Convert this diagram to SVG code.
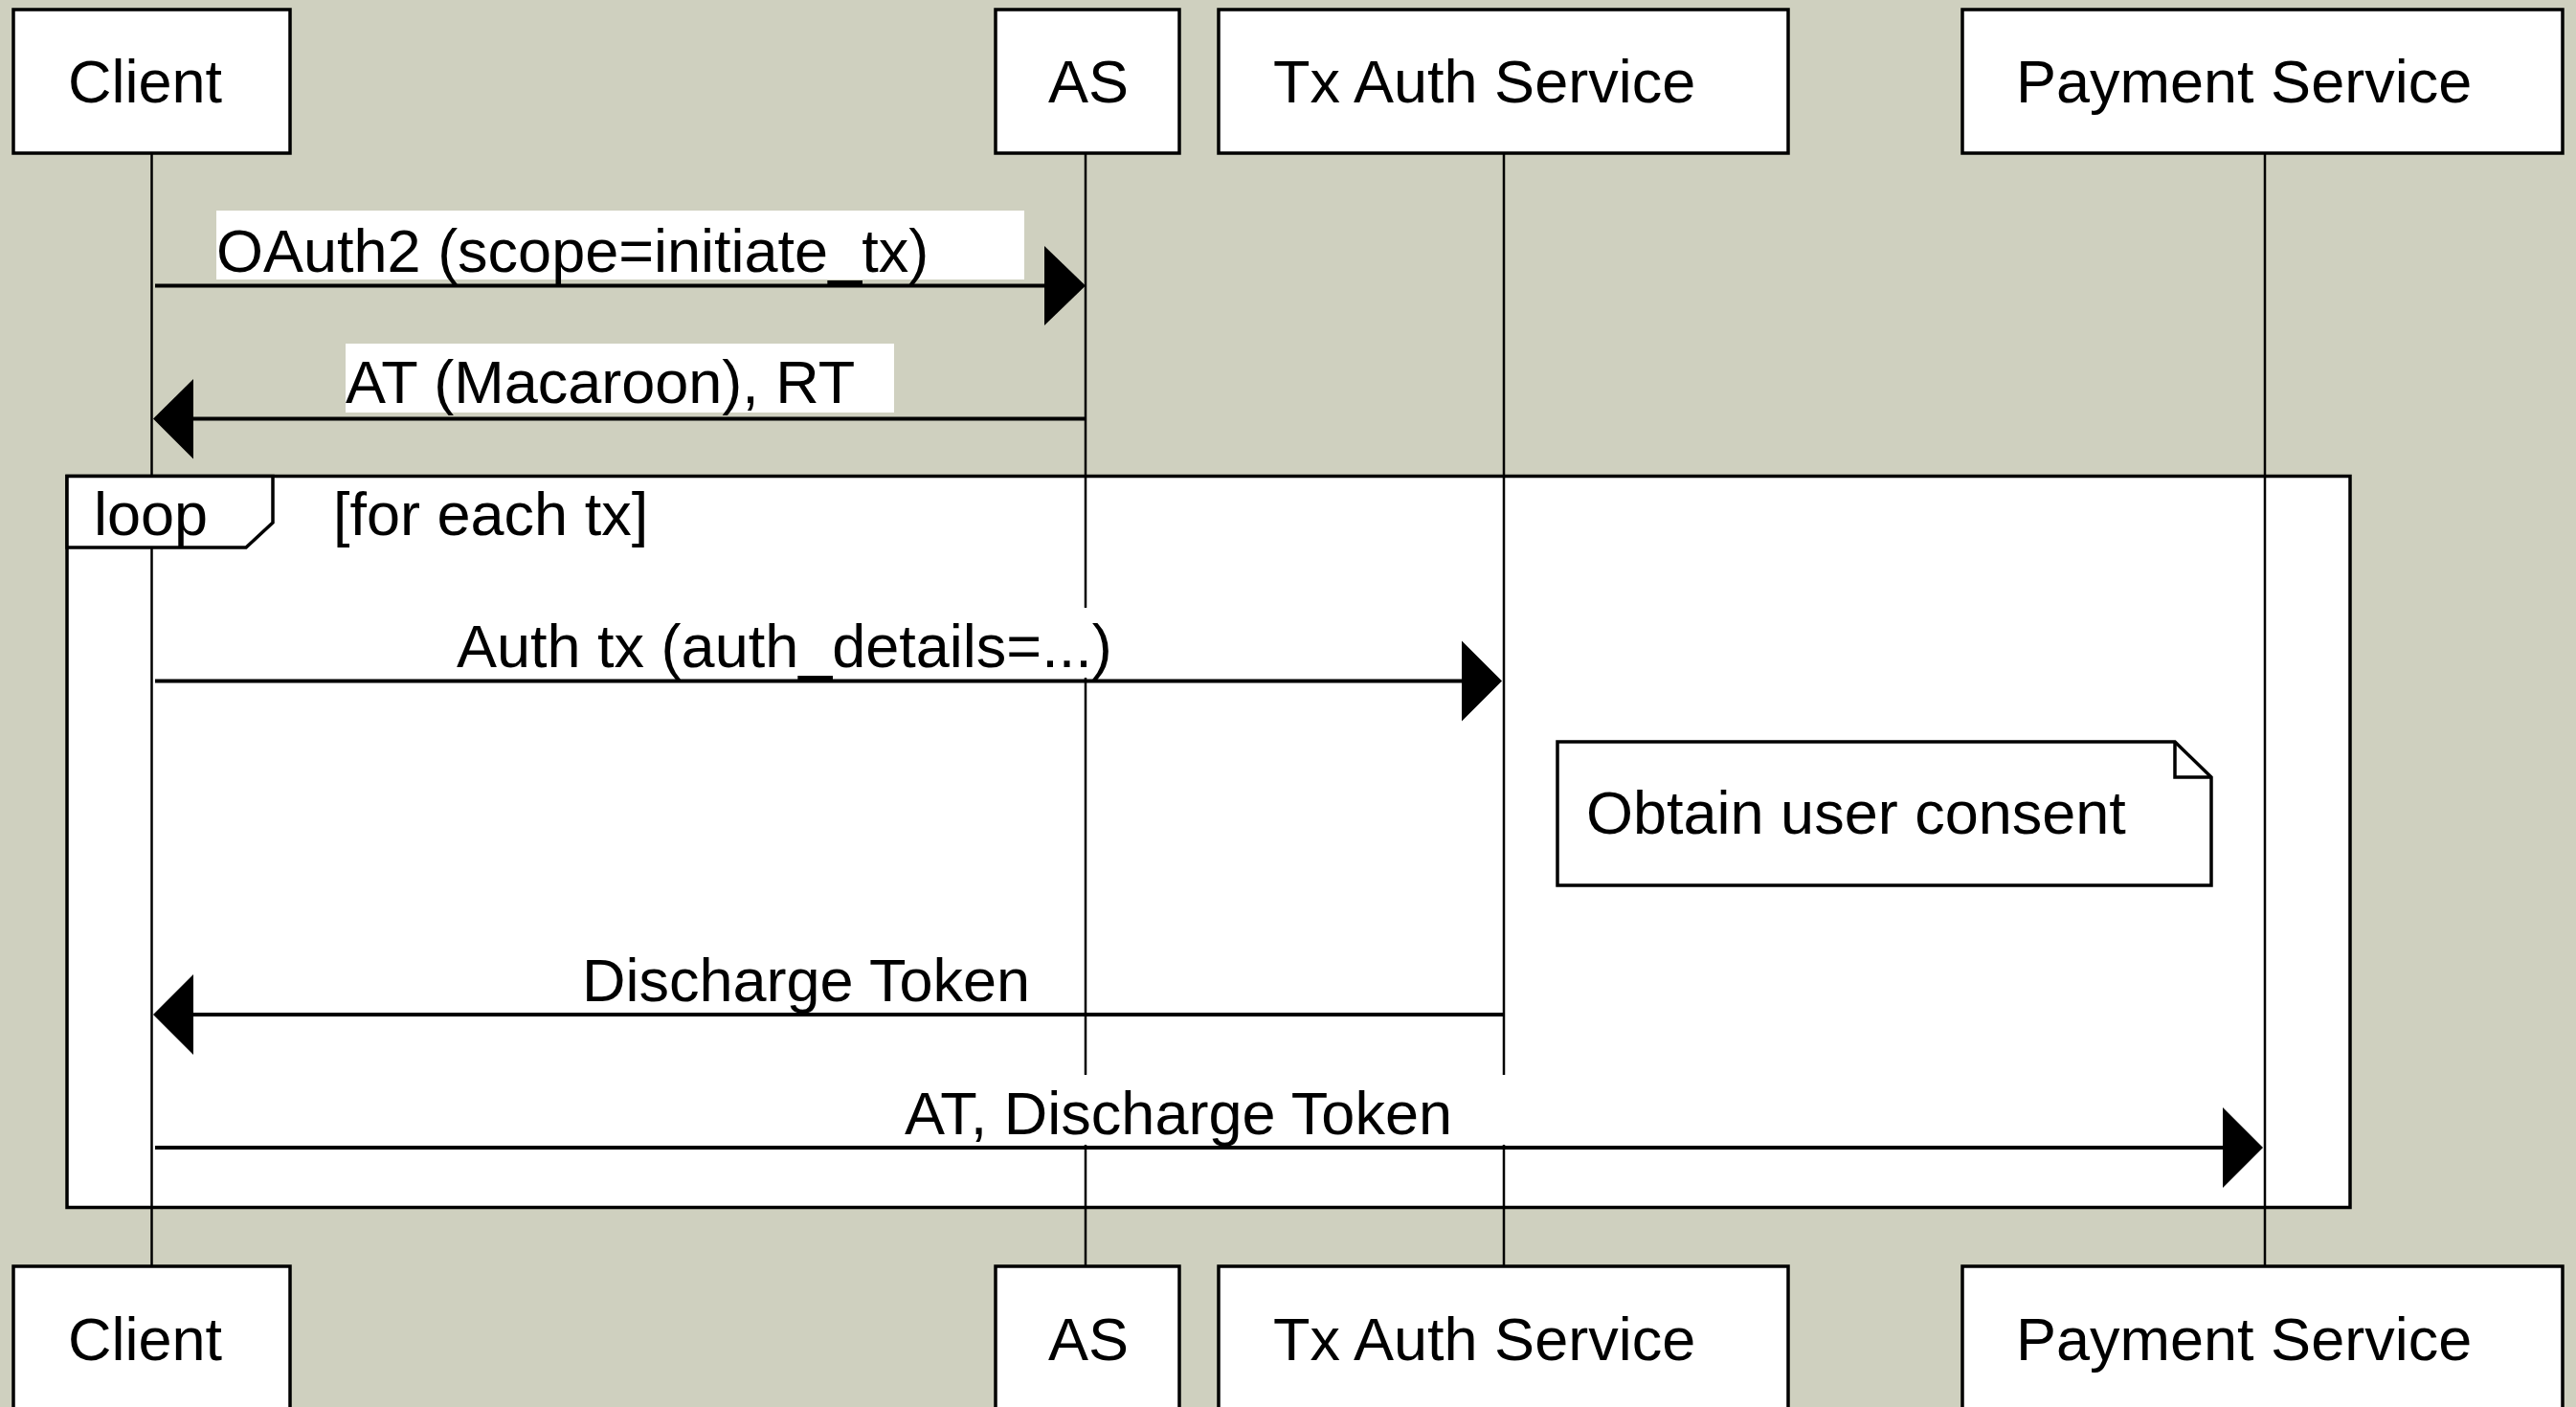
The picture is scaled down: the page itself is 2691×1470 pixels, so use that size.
<svg xmlns="http://www.w3.org/2000/svg" width="2691" height="1470" viewBox="0 0 2691 1470">
<style>
text{font-family:"Liberation Sans",Arial,Helvetica,sans-serif;font-size:63px;fill:#000}
.box{fill:#fff;stroke:#000;stroke-width:3.5}
.life{stroke:#000;stroke-width:2.5;fill:none}
.msg{stroke:#000;stroke-width:4;fill:none}
.head{fill:#000;stroke:none}
.lbl{fill:#fff;stroke:none}
.frame{fill:#fff;stroke:#000;stroke-width:3.5}
</style>
<rect x="0" y="0" width="2691" height="1470" fill="#cfd0bf"/>
<g id="loop-frame">
<rect class="frame" x="70" y="497.5" width="2385" height="764"/>
</g>
<g id="lifelines">
<line class="life" x1="158.5" y1="160" x2="158.5" y2="1323"/>
<line class="life" x1="1134" y1="160" x2="1134" y2="1323"/>
<line class="life" x1="1571" y1="160" x2="1571" y2="1323"/>
<line class="life" x1="2366" y1="160" x2="2366" y2="1323"/>
</g>
<g id="loop-tab">
<polygon class="frame" points="70,497.5 285,497.5 285,546 257,572 70,572"/>
<text x="98" y="559">loop</text>
<text x="348" y="559">[for each tx]</text>
</g>
<g id="client-top"><rect class="box" x="14" y="10" width="289" height="150"/><text x="71" y="107">Client</text></g>
<g id="as-top"><rect class="box" x="1040" y="10" width="192" height="150"/><text x="1095" y="107">AS</text></g>
<g id="txauth-top"><rect class="box" x="1273" y="10" width="595" height="150"/><text x="1330" y="107">Tx Auth Service</text></g>
<g id="payment-top"><rect class="box" x="2050" y="10" width="627" height="150"/><text x="2106" y="107">Payment Service</text></g>
<g id="client-bottom"><rect class="box" x="14" y="1323" width="289" height="152"/><text x="71" y="1421">Client</text></g>
<g id="as-bottom"><rect class="box" x="1040" y="1323" width="192" height="152"/><text x="1095" y="1421">AS</text></g>
<g id="txauth-bottom"><rect class="box" x="1273" y="1323" width="595" height="152"/><text x="1330" y="1421">Tx Auth Service</text></g>
<g id="payment-bottom"><rect class="box" x="2050" y="1323" width="627" height="152"/><text x="2106" y="1421">Payment Service</text></g>
<g id="note">
<path class="box" d="M1627,775 H2272 L2310,812 V925 H1627 Z"/>
<path d="M2272,775 V812 H2310" fill="none" stroke="#000" stroke-width="3.5"/>
<text x="1657" y="871">Obtain user consent</text>
</g>
<g id="connectors">
<rect class="lbl" x="226" y="220" width="844" height="72"/>
<text x="226" y="284">OAuth2 (scope=initiate_tx)</text>
<line class="msg" x1="162" y1="298.5" x2="1092" y2="298.5"/>
<polygon class="head" points="1091,257 1134,298.5 1091,340"/>
<rect class="lbl" x="361" y="359" width="573" height="72"/>
<text x="361" y="421">AT (Macaroon), RT</text>
<line class="msg" x1="1134" y1="437.5" x2="201" y2="437.5"/>
<polygon class="head" points="202,396 160,437.5 202,479.5"/>
<rect class="lbl" x="477" y="635" width="723" height="73"/>
<text x="477" y="697">Auth tx (auth_details=...)</text>
<line class="msg" x1="162" y1="711.5" x2="1528" y2="711.5"/>
<polygon class="head" points="1527,669.5 1569,711.5 1527,753.5"/>
<rect class="lbl" x="607" y="983" width="500" height="72"/>
<text x="608" y="1046">Discharge Token</text>
<line class="msg" x1="1571" y1="1060" x2="201" y2="1060"/>
<polygon class="head" points="202,1018 160,1060 202,1102"/>
<rect class="lbl" x="945" y="1123" width="655" height="73"/>
<text x="945" y="1185">AT, Discharge Token</text>
<line class="msg" x1="162" y1="1199" x2="2323" y2="1199"/>
<polygon class="head" points="2322,1157 2364,1199 2322,1241"/>
</g>
</svg>
